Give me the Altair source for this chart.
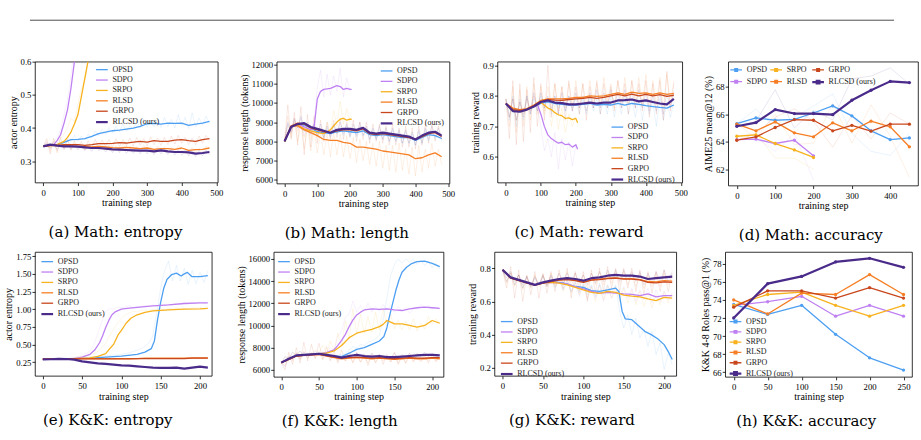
import altair as alt
import pandas as pd

METHODS = ["OPSD", "SDPO", "SRPO", "RLSD", "GRPO", "RLCSD (ours)"]
COLOR_LIST = ["#4d9ff2", "#bf80f2", "#f7b21e", "#f67f25", "#c9471d", "#4a2b8a"]
WIDTH_LIST = [1.3, 1.3, 1.3, 1.3, 1.3, 2.2]
OURS = "RLCSD (ours)"

# ---------------- (a) Math: entropy ----------------
A_OPSD = [0.345,0.348,0.350,0.357,0.365,0.366,0.368,0.375,0.383,0.388,0.392,0.394,0.397,0.400,0.405,0.413,0.414,0.412,0.415,0.414,0.415,0.408,0.412,0.415,0.420]
A_RLSD = [0.345,0.348,0.347,0.348,0.346,0.345,0.344,0.343,0.345,0.343,0.341,0.340,0.342,0.340,0.338,0.340,0.336,0.338,0.338,0.336,0.340,0.333,0.335,0.336,0.340]
A_GRPO = [0.345,0.348,0.348,0.350,0.350,0.350,0.348,0.350,0.353,0.353,0.354,0.356,0.355,0.358,0.360,0.358,0.362,0.360,0.360,0.364,0.365,0.362,0.360,0.365,0.368]
A_RLCSD = [0.345,0.350,0.347,0.345,0.345,0.344,0.342,0.340,0.340,0.338,0.336,0.335,0.334,0.333,0.332,0.332,0.330,0.333,0.330,0.328,0.328,0.327,0.323,0.325,0.328]
A_SDPO_X = [0,10,20,30,40,50,60,70,80,90,100]
A_SDPO = [0.345,0.347,0.348,0.350,0.362,0.380,0.415,0.455,0.520,0.600,0.680]
A_SRPO_X = [0,20,40,60,70,80,90,100,110,120,130,140]
A_SRPO = [0.345,0.347,0.350,0.360,0.372,0.388,0.412,0.440,0.495,0.550,0.605,0.660]
A_RAW_OPSD = [0.345,0.352,0.340,0.356,0.347,0.362,0.350,0.372,0.360,0.378,0.360,0.376,0.364,0.382,0.370,0.392,0.376,0.396,0.380,0.402,0.386,0.406,0.388,0.412,0.390,0.406,0.396,0.422,0.400,0.428,0.404,0.424,0.404,0.428,0.402,0.432,0.404,0.426,0.400,0.440,0.408,0.432,0.398,0.446,0.404,0.430,0.410,0.436,0.416]
A_RAW_RLSD = [0.345,0.360,0.330,0.362,0.325,0.358,0.340,0.366,0.332,0.356,0.338,0.352,0.334,0.350,0.338,0.354,0.336,0.352,0.334,0.350,0.332,0.348,0.330,0.352,0.334,0.346,0.332,0.344,0.328,0.350,0.330,0.344,0.326,0.346,0.330,0.344,0.328,0.342,0.326,0.348,0.330,0.340,0.322,0.342,0.326,0.340,0.328,0.346,0.334]
A_RAW_GRPO = [0.345,0.368,0.322,0.370,0.330,0.372,0.334,0.366,0.338,0.362,0.340,0.360,0.336,0.362,0.340,0.366,0.342,0.364,0.344,0.366,0.342,0.368,0.344,0.366,0.346,0.370,0.346,0.372,0.348,0.368,0.346,0.374,0.350,0.370,0.348,0.372,0.350,0.376,0.352,0.378,0.354,0.372,0.350,0.370,0.350,0.376,0.354,0.378,0.362]
A_RAW_RLCSD = [0.345,0.356,0.338,0.352,0.336,0.350,0.338,0.350,0.336,0.350,0.334,0.348,0.332,0.346,0.330,0.346,0.332,0.344,0.328,0.344,0.326,0.342,0.326,0.342,0.324,0.340,0.324,0.340,0.322,0.340,0.322,0.338,0.320,0.340,0.322,0.338,0.320,0.336,0.318,0.336,0.318,0.334,0.316,0.332,0.314,0.334,0.316,0.334,0.320]
A_RAW_SDPO = [0.345,0.352,0.342,0.358,0.372,0.395,0.440,0.485,0.560,0.640,0.720]
A_RAW_SRPO = [0.345,0.350,0.342,0.355,0.352,0.368,0.382,0.400,0.430,0.420,0.470,0.520,0.540,0.620,0.680]

# ---------------- (b) Math: length ----------------
B_OPSD = [8000,8750,8900,8850,8700,8500,8450,8400,8500,8550,8500,8450,8550,8350,8300,8350,8300,8250,8200,8200,8050,8200,8350,8300,8150]
B_RLSD = [8000,8800,8800,8600,8450,8300,8100,8050,8050,7950,7900,7700,7700,7650,7600,7500,7450,7400,7350,7300,7100,7150,7300,7400,7200]
B_GRPO = [8000,8800,8950,8900,8700,8600,8500,8450,8550,8600,8600,8550,8650,8400,8350,8400,8350,8300,8250,8200,8100,8250,8400,8450,8250]
B_RLCSD = [8000,8750,8900,8950,8750,8650,8550,8450,8600,8650,8650,8600,8700,8450,8400,8450,8400,8350,8300,8250,8100,8300,8450,8500,8300]
B_SDPO_X = [0,20,40,60,80,90,100,110,120,140,160,170,180,190,200,205]
B_SDPO = [8000,8750,8900,8750,8600,8700,10200,10600,10700,10750,10900,10850,10700,10750,10700,10700]
B_SRPO_X = [0,20,40,60,80,100,120,130,140,150,160,170,180,190,200,205]
B_SRPO = [8000,8750,8850,8650,8550,8450,8400,8500,8600,8800,9000,9150,9200,9100,9150,9150]
B_RAW_OPSD = [8000,8900,8500,9100,8700,9200,8500,8900,8400,8900,8300,8700,8200,8700,8300,8800,8400,8800,8300,8800,8200,8700,8200,8800,8300,8700,8100,8600,8100,8600,8100,8500,8000,8600,8000,8500,7900,8500,7900,8400,7800,8500,7900,8600,8000,8600,8100,8500,8000]
B_RAW_RLSD = [8000,9300,8200,9200,8000,8900,7600,8700,7500,8600,7400,8500,7300,8400,7200,8500,7300,8400,7200,8300,7100,8200,6900,8100,7000,8000,6800,7900,6700,8000,6600,7800,6500,7800,6400,7900,6500,7600,6300,7700,6200,7800,6400,7600,6600,7900,6700,7600,6800]
B_RAW_GRPO = [8000,9900,8100,9500,7800,9800,7300,9400,7700,9300,7900,9100,8000,9000,8100,9100,8200,9200,8100,9000,8200,9100,8000,9000,8100,9000,7900,8900,8000,8900,7900,8800,7800,8900,7800,8700,7700,8800,7700,8700,7600,8800,7800,8900,7900,8900,8000,8800,8100]
B_RAW_RLCSD = [8000,9000,8500,9200,8700,9300,8600,9000,8400,8900,8300,8900,8200,8800,8200,8900,8400,9000,8400,8900,8300,8900,8300,9000,8300,8800,8100,8700,8100,8800,8100,8700,8000,8700,8000,8600,7900,8600,7900,8500,7800,8600,7900,8700,8100,8800,8200,8700,8100]
B_RAW_SDPO = [8000,8900,8400,9100,8600,9000,8300,8900,8300,9000,10800,11700,10300,11500,10400,11400,10600,11800,10300,11300,10600]
B_RAW_SRPO = [8000,8800,8400,9000,8500,8900,8200,8800,8100,8700,8200,8700,8100,9000,8500,9600,8800,10100,8900,9700,9000]

# ---------------- (c) Math: reward ----------------
C_OPSD = [0.775,0.755,0.750,0.755,0.765,0.775,0.780,0.775,0.772,0.770,0.770,0.772,0.775,0.770,0.772,0.770,0.775,0.770,0.775,0.772,0.768,0.765,0.762,0.760,0.770]
C_RLSD = [0.775,0.760,0.755,0.758,0.770,0.785,0.790,0.790,0.790,0.792,0.795,0.795,0.800,0.798,0.800,0.805,0.810,0.805,0.812,0.808,0.810,0.805,0.810,0.805,0.808]
C_GRPO = [0.775,0.755,0.752,0.755,0.768,0.782,0.788,0.786,0.785,0.788,0.790,0.792,0.795,0.792,0.795,0.800,0.805,0.800,0.806,0.800,0.805,0.800,0.804,0.798,0.802]
C_RLCSD = [0.775,0.750,0.748,0.755,0.765,0.780,0.785,0.778,0.776,0.772,0.772,0.775,0.778,0.775,0.778,0.778,0.785,0.786,0.788,0.782,0.785,0.780,0.775,0.772,0.790]
C_SDPO_X = [0,20,40,60,80,90,100,110,120,130,140,150,160,170,180,190,200,205]
C_SDPO = [0.775,0.752,0.750,0.755,0.768,0.772,0.740,0.700,0.672,0.660,0.652,0.645,0.648,0.640,0.642,0.632,0.640,0.625]
C_SRPO_X = [0,20,40,60,80,100,110,120,130,140,150,160,170,180,190,200,205]
C_SRPO = [0.775,0.752,0.750,0.756,0.768,0.778,0.770,0.760,0.755,0.745,0.738,0.735,0.726,0.728,0.722,0.726,0.712]
C_RAW_OPSD = [0.790,0.720,0.800,0.700,0.790,0.720,0.800,0.740,0.790,0.750,0.800,0.760,0.790,0.740,0.800,0.760,0.790,0.750,0.800,0.760,0.790,0.740,0.790,0.740,0.800,0.750,0.790,0.740,0.790,0.740,0.800,0.730,0.790,0.740,0.800,0.740,0.790,0.730,0.790,0.720,0.790,0.740,0.780,0.700,0.790,0.720,0.780,0.730,0.780]
C_RAW_RLSD = [0.790,0.700,0.830,0.680,0.820,0.700,0.830,0.720,0.840,0.740,0.830,0.750,0.830,0.760,0.840,0.750,0.830,0.760,0.840,0.770,0.850,0.760,0.840,0.770,0.850,0.770,0.840,0.770,0.860,0.780,0.840,0.760,0.850,0.780,0.860,0.770,0.850,0.780,0.860,0.770,0.870,0.760,0.850,0.770,0.860,0.760,0.870,0.770,0.850]
C_RAW_GRPO = [0.790,0.660,0.850,0.640,0.840,0.650,0.820,0.680,0.860,0.700,0.840,0.720,0.900,0.730,0.840,0.740,0.830,0.720,0.850,0.750,0.830,0.740,0.840,0.720,0.830,0.760,0.850,0.740,0.840,0.760,0.830,0.750,0.850,0.760,0.840,0.740,0.850,0.760,0.840,0.750,0.850,0.730,0.840,0.740,0.850,0.720,0.880,0.750,0.840]
C_RAW_RLCSD = [0.790,0.730,0.790,0.720,0.780,0.730,0.800,0.740,0.810,0.750,0.810,0.760,0.800,0.750,0.800,0.740,0.810,0.750,0.800,0.750,0.810,0.760,0.800,0.750,0.810,0.760,0.820,0.760,0.810,0.760,0.820,0.770,0.810,0.760,0.820,0.770,0.810,0.760,0.820,0.760,0.810,0.750,0.800,0.750,0.810,0.740,0.810,0.760,0.810]
C_RAW_SDPO = [0.790,0.730,0.790,0.720,0.780,0.740,0.790,0.750,0.800,0.760,0.700,0.620,0.660,0.600,0.680,0.560,0.660,0.590,0.650,0.570,0.640]
C_RAW_SRPO = [0.790,0.730,0.790,0.720,0.780,0.740,0.790,0.750,0.800,0.770,0.790,0.740,0.780,0.700,0.770,0.690,0.760,0.680,0.740,0.700,0.730]

# ---------------- (d) Math: accuracy ----------------
D_STEPS = [0,50,100,150,200,250,300,350,400,450]
D_OPSD = [65.33,65.74,65.57,65.64,66.10,66.62,65.89,64.80,64.16,64.28]
D_SDPO = [64.16,64.19,63.87,64.11,62.97]
D_SRPO = [64.40,64.50,63.87,63.40,62.85]
D_RLSD = [65.28,64.80,65.45,64.65,64.36,65.38,64.80,65.50,65.09,63.63]
D_GRPO = [64.11,64.36,65.04,65.62,65.57,64.80,65.20,64.77,65.28,65.28]
D_RLCSD = [65.13,65.40,66.35,66.06,66.06,65.98,67.03,67.76,68.41,68.32]
D_RAW_OPSD = [65.3,66.4,65.0,65.8,66.6,67.5,64.6,63.3,63.0,64.6]
D_RAW_SDPO = [64.2,64.3,63.3,64.6,61.2]
D_RAW_SRPO = [64.4,64.6,62.8,62.8,62.0]
D_RAW_RLSD = [65.3,64.3,66.0,63.8,63.9,66.8,63.9,66.7,64.4,61.4]
D_RAW_GRPO = [64.1,64.6,65.8,66.4,65.5,63.6,65.9,64.2,66.1,65.3]
D_RAW_RLCSD = [65.1,65.5,67.8,65.0,66.3,65.6,68.6,68.8,69.4,68.2]

# ---------------- (e) K&K: entropy ----------------
E_OPSD_X = [0,20,40,60,80,100,120,130,138,142,146,150,154,158,164,170,176,180,184,190,200,210]
E_OPSD = [0.29,0.29,0.295,0.305,0.32,0.335,0.36,0.39,0.44,0.55,0.85,1.10,1.30,1.42,1.49,1.51,1.47,1.50,1.52,1.46,1.46,1.475]
E_SDPO_X = [0,20,40,50,60,66,72,76,80,84,88,92,100,110,120,140,160,180,200,210]
E_SDPO = [0.29,0.29,0.30,0.32,0.36,0.42,0.52,0.62,0.74,0.84,0.92,0.96,1.00,1.015,1.025,1.045,1.06,1.08,1.09,1.09]
E_SRPO_X = [0,20,40,60,70,80,86,90,96,100,106,112,120,130,140,160,180,200,210]
E_SRPO = [0.29,0.29,0.30,0.31,0.33,0.37,0.45,0.50,0.64,0.70,0.80,0.87,0.92,0.955,0.975,0.99,1.0,1.005,1.01]
E_RLSD = [0.29,0.295,0.295,0.30,0.30,0.30,0.30,0.30,0.30,0.30,0.30,0.30,0.30,0.305,0.305,0.305,0.305,0.305,0.305,0.31,0.31,0.31]
E_GRPO = [0.29,0.295,0.295,0.295,0.295,0.295,0.295,0.295,0.295,0.295,0.295,0.295,0.30,0.30,0.30,0.30,0.30,0.30,0.30,0.305,0.305,0.305]
E_RLCSD = [0.287,0.29,0.295,0.293,0.285,0.26,0.245,0.232,0.225,0.215,0.204,0.20,0.19,0.18,0.17,0.167,0.168,0.17,0.157,0.17,0.185,0.17]
E_RAW_OPSD = [0.29,0.29,0.29,0.29,0.295,0.30,0.30,0.30,0.31,0.31,0.315,0.32,0.325,0.33,0.33,0.335,0.34,0.345,0.35,0.35,0.36,0.37,0.38,0.40,0.42,0.44,0.47,0.52,0.62,0.95,1.30,1.55,1.68,1.40,1.62,1.40,1.58,1.35,1.55,1.36,1.52,1.38,1.54]
E_RAW_SDPO = [0.29,0.29,0.29,0.29,0.295,0.30,0.30,0.31,0.32,0.33,0.35,0.37,0.40,0.50,0.65,0.82,0.96,1.01,1.00,1.03,1.02,1.03,1.05,1.02,1.04,1.03,1.05,1.04,1.06,1.04,1.06,1.05,1.07,1.06,1.08,1.06,1.10,1.07,1.09,1.08,1.10,1.08,1.10]
E_RAW_SRPO = [0.29,0.29,0.29,0.29,0.295,0.30,0.30,0.30,0.31,0.32,0.33,0.34,0.35,0.37,0.40,0.45,0.52,0.62,0.72,0.80,0.87,0.92,0.95,0.97,0.96,0.98,0.99,0.97,1.00,0.99,1.00,0.98,1.01,1.00,1.02,0.99,1.01,1.00,1.02,1.01,1.02,1.00,1.02]

# ---------------- (f) K&K: length ----------------
F_RLCSD = [6650,7000,7300,7350,7400,7450,7350,7250,7100,7250,7350,7250,7200,7250,7150,7150,7200,7250,7300,7350,7350,7300]
F_GRPO = [6650,6950,7250,7300,7350,7400,7250,7150,7050,7100,7150,7100,7050,7100,7050,7000,7050,7100,7050,7050,7100,7100]
F_RLSD = [6650,6950,7250,7300,7350,7400,7250,7100,7000,7050,7100,7050,7000,7050,7000,6950,7000,7050,7000,7000,7050,7000]
F_SDPO_X = [0,20,40,50,60,70,75,80,85,90,95,100,105,110,120,130,140,150,160,170,180,190,200,210]
F_SDPO = [6650,7250,7400,7450,7550,7800,8200,8650,9200,9900,10500,10950,11200,11400,11500,11450,11500,11400,11350,11500,11600,11650,11600,11550]
F_SRPO_X = [0,20,40,50,60,70,80,90,100,110,120,130,135,140,145,150,160,170,180,190,200,210]
F_SRPO = [6650,7250,7400,7450,7500,7700,8200,8900,9300,9500,9650,9900,10100,10450,10300,10150,10150,10000,9850,10000,10450,10200]
F_OPSD_X = [0,20,40,50,60,70,80,90,100,110,120,130,136,140,144,148,152,156,160,166,172,180,190,200,210]
F_OPSD = [6650,7250,7400,7450,7350,7250,7200,7500,7850,8000,8300,8600,9000,9800,11000,12100,13200,14100,14800,15250,15550,15750,15800,15600,15300]
F_RAW_RLCSD = [6650,6300,7200,6900,7500,7000,7600,7100,7500,7300,7600,7200,7500,7100,7400,6900,7300,7100,7600,7000,7500,7100,7400,7000,7500,7100,7400,7000,7300,7100,7500,7000,7400,7100,7500,7100,7500,7200,7600,7200,7500,7200,7400]
F_RAW_GRPO = [6650,6000,7600,6500,8000,6600,8500,6800,8300,7000,8400,6900,8100,6800,7700,6600,7800,6800,7500,6600,7600,6700,7400,6400,7500,6600,7400,6500,7400,6700,7600,6500,7300,6600,7500,6700,7400,6800,7300,6600,7400,6800,7200]
F_RAW_RLSD = [6650,6400,7300,6800,7600,6900,7700,7000,7600,7100,7500,7000,7300,6900,7300,6800,7200,6800,7300,6700,7300,6700,7200,6600,7300,6700,7200,6800,7200,6700,7300,6600,7100,6600,7300,6800,7100,6700,7200,6800,7200,6700,7100]
F_RAW_SDPO = [6650,7200,7000,7600,7300,7700,7200,7500,7300,7700,7400,7600,7500,8000,7800,9000,9500,10800,11000,12200,11200,11800,11300,12000,11200,11700,11300,11900,11400,11800,11200,11700,11300,11600,11100,11500,11500,11900,11600,11800,11500,11700,11500]
F_RAW_SRPO = [6650,7200,7000,7600,7300,7700,7200,7500,7400,7800,7600,8200,7500,8600,7800,9300,8200,10400,8800,11500,9200,11000,9300,10800,9400,11200,9600,11500,10000,11000,9700,10500,9600,10400,9600,10600,9500,10200,9700,10800,10100,10600,10200]
F_RAW_OPSD = [6650,7200,7000,7600,7300,7700,7300,7500,7300,7600,7400,7500,7300,7400,7200,7300,7400,7500,7800,8100,7900,8300,8200,8500,8600,8800,9100,10500,12500,14500,15500,16000,15600,16000,15700,16000,15500,15900,15400,15800,15200,15600,15100]

# ---------------- (g) K&K: reward ----------------
G_RLCSD = [0.790,0.745,0.730,0.715,0.700,0.715,0.725,0.735,0.740,0.735,0.725,0.740,0.745,0.755,0.760,0.756,0.755,0.750,0.735,0.740,0.745,0.750]
G_GRPO = [0.790,0.740,0.725,0.712,0.698,0.710,0.720,0.728,0.732,0.725,0.715,0.728,0.732,0.738,0.740,0.735,0.735,0.730,0.715,0.712,0.718,0.715]
G_RLSD = [0.790,0.742,0.728,0.714,0.700,0.712,0.722,0.730,0.735,0.728,0.718,0.730,0.735,0.740,0.742,0.738,0.738,0.732,0.720,0.718,0.725,0.722]
G_SDPO = [0.790,0.742,0.728,0.712,0.700,0.712,0.715,0.712,0.705,0.690,0.675,0.660,0.650,0.655,0.650,0.645,0.642,0.635,0.645,0.628,0.635,0.635]
G_SRPO = [0.790,0.742,0.728,0.712,0.700,0.712,0.715,0.710,0.700,0.685,0.670,0.655,0.648,0.660,0.655,0.638,0.632,0.628,0.615,0.605,0.625,0.620]
G_OPSD_X = [0,10,20,30,40,50,60,70,80,90,100,110,120,130,140,144,148,152,160,168,176,184,192,200,206,210]
G_OPSD = [0.790,0.742,0.728,0.712,0.700,0.712,0.718,0.715,0.705,0.690,0.685,0.665,0.660,0.670,0.680,0.660,0.540,0.495,0.490,0.455,0.420,0.400,0.375,0.340,0.290,0.250]
G_RAW_RLCSD = [0.790,0.740,0.780,0.720,0.760,0.700,0.750,0.690,0.740,0.700,0.750,0.700,0.760,0.710,0.770,0.710,0.770,0.720,0.770,0.710,0.760,0.700,0.770,0.710,0.780,0.720,0.790,0.730,0.790,0.720,0.790,0.730,0.780,0.720,0.780,0.700,0.770,0.710,0.780,0.720,0.790,0.720,0.780]
G_RAW_GRPO = [0.790,0.680,0.810,0.620,0.790,0.600,0.760,0.640,0.780,0.620,0.770,0.650,0.780,0.660,0.790,0.680,0.800,0.620,0.780,0.660,0.780,0.600,0.790,0.650,0.800,0.660,0.810,0.680,0.800,0.660,0.800,0.680,0.800,0.660,0.790,0.640,0.780,0.650,0.780,0.660,0.790,0.660,0.770]
G_RAW_RLSD = [0.790,0.710,0.780,0.690,0.760,0.670,0.750,0.680,0.760,0.690,0.760,0.690,0.770,0.700,0.770,0.700,0.780,0.690,0.770,0.690,0.760,0.680,0.770,0.700,0.780,0.700,0.780,0.710,0.780,0.700,0.780,0.700,0.770,0.690,0.770,0.680,0.760,0.690,0.770,0.690,0.770,0.700,0.760]
G_RAW_SDPO = [0.790,0.720,0.770,0.700,0.760,0.680,0.750,0.690,0.750,0.700,0.760,0.690,0.750,0.690,0.740,0.670,0.730,0.660,0.720,0.630,0.700,0.610,0.690,0.620,0.700,0.600,0.690,0.620,0.680,0.630,0.690,0.620,0.680,0.600,0.670,0.610,0.680,0.590,0.670,0.600,0.660,0.610,0.650]
G_RAW_SRPO = [0.790,0.720,0.770,0.700,0.760,0.680,0.750,0.690,0.750,0.700,0.760,0.690,0.750,0.690,0.740,0.660,0.720,0.650,0.710,0.640,0.700,0.620,0.690,0.600,0.700,0.610,0.700,0.620,0.690,0.600,0.680,0.590,0.670,0.580,0.660,0.570,0.650,0.560,0.640,0.580,0.660,0.590,0.650]
G_RAW_OPSD = [0.790,0.720,0.770,0.700,0.760,0.680,0.750,0.690,0.750,0.700,0.760,0.690,0.750,0.680,0.740,0.670,0.730,0.660,0.720,0.650,0.710,0.640,0.700,0.630,0.710,0.640,0.700,0.650,0.700,0.540,0.440,0.520,0.400,0.500,0.380,0.430,0.330,0.420,0.280,0.350,0.190,0.290,0.220]

# ---------------- (h) K&K: accuracy ----------------
H_STEPS = [0,50,100,150,200,250]
H_OPSD = [73.5,72.4,73.4,70.2,67.6,66.25]
H_SDPO = [73.4,73.8,74.4,72.2,73.4,72.2]
H_SRPO = [73.4,74.6,74.85,73.4,72.2,73.4]
H_RLSD = [74.0,72.45,74.75,74.6,76.8,74.6]
H_GRPO = [73.2,75.0,75.0,74.2,75.35,74.2]
H_RLCSD = [72.0,75.8,76.6,78.2,78.6,77.6]

SERIF = "Liberation Serif, Times New Roman, serif"
CAPTION_FONT = "DejaVu Serif"
LEG_LINE = "M-1.3,0H1.3"
LEG_LINE_PT = "M-1.3,0H1.3M-0.3,-0.3H0.3V0.3H-0.3Z"


def grid(values, step):
    return [i * step for i in range(len(values))]


def long_df(series):
    rows = []
    for m, (xs, ys) in series.items():
        for x, y in zip(xs, ys):
            rows.append({"step": x, "value": y, "method": m})
    return pd.DataFrame(rows)


def panel(smooth, raw, xdom, xticks, ydom, yticks, yfmt, ytitle, caption, cap_off,
          w, h, leg, points=False):
    order = METHODS
    cmap = dict(zip(METHODS, COLOR_LIST))
    wmap = dict(zip(METHODS, WIDTH_LIST))
    cscale = alt.Scale(domain=order, range=[cmap[m] for m in order])
    wscale = alt.Scale(type="ordinal", domain=order, range=[wmap[m] for m in order])
    legend = alt.Legend(
        orient="none", legendX=leg["x"], legendY=leg["y"], title=None,
        symbolType=LEG_LINE_PT if points else LEG_LINE, symbolSize=81, symbolOpacity=1,
        labelFont=SERIF, labelFontSize=8, labelColor="#222", labelOffset=4.5,
        rowPadding=leg.get("rp", 0.4), columns=leg.get("cols", 1),
        columnPadding=leg.get("cp", 6), padding=0,
    )
    x = alt.X("step:Q", scale=alt.Scale(domain=xdom, nice=False, zero=False),
              axis=alt.Axis(values=xticks, format="d", title="training step"))
    y = alt.Y("value:Q", scale=alt.Scale(domain=ydom, nice=False, zero=False),
              axis=alt.Axis(values=yticks, format=yfmt, title=ytitle))
    layers = []
    if raw:
        rdf = long_df(raw)
        layers.append(
            alt.Chart(rdf).mark_line(clip=True, strokeWidth=0.7, opacity=0.17).encode(
                x=x, y=y, color=alt.Color("method:N", scale=cscale, legend=legend)))
    sdf = long_df(smooth)
    enc = dict(x=x, y=y,
               color=alt.Color("method:N", scale=cscale, legend=legend),
               strokeWidth=alt.StrokeWidth("method:N", scale=wscale, legend=legend))
    kw = dict(clip=True, strokeJoin="round")
    if points:
        kw["point"] = alt.OverlayMarkDef(filled=True, size=11)
    layers.append(alt.Chart(sdf[sdf.method != OURS]).mark_line(**kw).encode(**enc))
    layers.append(alt.Chart(sdf[sdf.method == OURS]).mark_line(**kw).encode(**enc))
    return alt.layer(*layers).properties(
        width=w, height=h,
        title=alt.TitleParams(text=caption, orient="bottom", anchor="middle", frame="bounds",
                              font=CAPTION_FONT, fontSize=15, fontWeight="normal",
                              color="#000", offset=cap_off))


MATH_X = [-24, 504]
MATH_T = [0, 100, 200, 300, 400, 500]
KK_X = [-10, 215]
KK_T = [0, 50, 100, 150, 200]
CAP1 = 17
CAP2 = 12

pa = panel(
    {"OPSD": (grid(A_OPSD, 20), A_OPSD), "SDPO": (A_SDPO_X, A_SDPO), "SRPO": (A_SRPO_X, A_SRPO),
     "RLSD": (grid(A_RLSD, 20), A_RLSD), "GRPO": (grid(A_GRPO, 20), A_GRPO),
     OURS: (grid(A_RLCSD, 20), A_RLCSD)},
    {"OPSD": (grid(A_RAW_OPSD, 10), A_RAW_OPSD), "SDPO": (grid(A_RAW_SDPO, 10), A_RAW_SDPO),
     "SRPO": (grid(A_RAW_SRPO, 10), A_RAW_SRPO), "RLSD": (grid(A_RAW_RLSD, 10), A_RAW_RLSD),
     "GRPO": (grid(A_RAW_GRPO, 10), A_RAW_GRPO), OURS: (grid(A_RAW_RLCSD, 10), A_RAW_RLCSD)},
    MATH_X, MATH_T, [0.236, 0.6], [0.3, 0.4, 0.5, 0.6], ".1f", "actor entropy",
    "(a) Math: entropy", CAP1, 183, 121, {"x": 61, "y": 2.5})

pb = panel(
    {"OPSD": (grid(B_OPSD, 20), B_OPSD), "SDPO": (B_SDPO_X, B_SDPO), "SRPO": (B_SRPO_X, B_SRPO),
     "RLSD": (grid(B_RLSD, 20), B_RLSD), "GRPO": (grid(B_GRPO, 20), B_GRPO),
     OURS: (grid(B_RLCSD, 20), B_RLCSD)},
    {"OPSD": (grid(B_RAW_OPSD, 10), B_RAW_OPSD), "SDPO": (grid(B_RAW_SDPO, 10), B_RAW_SDPO),
     "SRPO": (grid(B_RAW_SRPO, 10), B_RAW_SRPO), "RLSD": (grid(B_RAW_RLSD, 10), B_RAW_RLSD),
     "GRPO": (grid(B_RAW_GRPO, 10), B_RAW_GRPO), OURS: (grid(B_RAW_RLCSD, 10), B_RAW_RLCSD)},
    MATH_X, MATH_T, [5810, 12140], [6000, 7000, 8000, 9000, 10000, 11000, 12000], "d",
    "response length (tokens)", "(b) Math: length", CAP1, 173, 122, {"x": 104, "y": 3.8})

pc = panel(
    {"OPSD": (grid(C_OPSD, 20), C_OPSD), "SDPO": (C_SDPO_X, C_SDPO), "SRPO": (C_SRPO_X, C_SRPO),
     "RLSD": (grid(C_RLSD, 20), C_RLSD), "GRPO": (grid(C_GRPO, 20), C_GRPO),
     OURS: (grid(C_RLCSD, 20), C_RLCSD)},
    {"OPSD": (grid(C_RAW_OPSD, 10), C_RAW_OPSD), "SDPO": (grid(C_RAW_SDPO, 10), C_RAW_SDPO),
     "SRPO": (grid(C_RAW_SRPO, 10), C_RAW_SRPO), "RLSD": (grid(C_RAW_RLSD, 10), C_RAW_RLSD),
     "GRPO": (grid(C_RAW_GRPO, 10), C_RAW_GRPO), OURS: (grid(C_RAW_RLCSD, 10), C_RAW_RLCSD)},
    MATH_X, MATH_T, [0.516, 0.912], [0.6, 0.7, 0.8, 0.9], ".1f", "training reward",
    "(c) Math: reward", CAP1, 185, 121, {"x": 114, "y": 60})

pd_ = panel(
    {"OPSD": (D_STEPS, D_OPSD), "SDPO": (D_STEPS, D_SDPO), "SRPO": (D_STEPS, D_SRPO),
     "RLSD": (D_STEPS, D_RLSD), "GRPO": (D_STEPS, D_GRPO), OURS: (D_STEPS, D_RLCSD)},
    {"OPSD": (D_STEPS, D_RAW_OPSD), "SDPO": (D_STEPS, D_RAW_SDPO), "SRPO": (D_STEPS, D_RAW_SRPO),
     "RLSD": (D_STEPS, D_RAW_RLSD), "GRPO": (D_STEPS, D_RAW_GRPO), OURS: (D_STEPS, D_RAW_RLCSD)},
    [-22.5, 472.5], [0, 100, 200, 300, 400], [60.8, 69.85], [62, 64, 66, 68], "d",
    "AIME25 mean@12 (%)", "(d) Math: accuracy", CAP1, 190, 124,
    {"x": 2, "y": 2.5, "cols": 3, "cp": 0, "rp": 2}, points=True)

pe = panel(
    {"OPSD": (E_OPSD_X, E_OPSD), "SDPO": (E_SDPO_X, E_SDPO), "SRPO": (E_SRPO_X, E_SRPO),
     "RLSD": (grid(E_RLSD, 10), E_RLSD), "GRPO": (grid(E_GRPO, 10), E_GRPO),
     OURS: (grid(E_RLCSD, 10), E_RLCSD)},
    {"OPSD": (grid(E_RAW_OPSD, 5), E_RAW_OPSD), "SDPO": (grid(E_RAW_SDPO, 5), E_RAW_SDPO),
     "SRPO": (grid(E_RAW_SRPO, 5), E_RAW_SRPO)},
    KK_X, KK_T, [0.055, 1.81], [0.25, 0.5, 0.75, 1.0, 1.25, 1.5, 1.75], ".2f", "actor entropy",
    "(e) K&K: entropy", CAP2, 177, 124, {"x": 6.3, "y": 4.2})

pf = panel(
    {"OPSD": (F_OPSD_X, F_OPSD), "SDPO": (F_SDPO_X, F_SDPO), "SRPO": (F_SRPO_X, F_SRPO),
     "RLSD": (grid(F_RLSD, 10), F_RLSD), "GRPO": (grid(F_GRPO, 10), F_GRPO),
     OURS: (grid(F_RLCSD, 10), F_RLCSD)},
    {"OPSD": (grid(F_RAW_OPSD, 5), F_RAW_OPSD), "SDPO": (grid(F_RAW_SDPO, 5), F_RAW_SDPO),
     "SRPO": (grid(F_RAW_SRPO, 5), F_RAW_SRPO), "RLSD": (grid(F_RAW_RLSD, 5), F_RAW_RLSD),
     "GRPO": (grid(F_RAW_GRPO, 5), F_RAW_GRPO), OURS: (grid(F_RAW_RLCSD, 5), F_RAW_RLCSD)},
    KK_X, KK_T, [5370, 16630], [6000, 8000, 10000, 12000, 14000, 16000], "d",
    "response length (tokens)", "(f) K&K: length", CAP2, 170, 125, {"x": 4.3, "y": 4.2})

pg = panel(
    {"OPSD": (G_OPSD_X, G_OPSD), "SDPO": (grid(G_SDPO, 10), G_SDPO), "SRPO": (grid(G_SRPO, 10), G_SRPO),
     "RLSD": (grid(G_RLSD, 10), G_RLSD), "GRPO": (grid(G_GRPO, 10), G_GRPO),
     OURS: (grid(G_RLCSD, 10), G_RLCSD)},
    {"OPSD": (grid(G_RAW_OPSD, 5), G_RAW_OPSD), "SDPO": (grid(G_RAW_SDPO, 5), G_RAW_SDPO),
     "SRPO": (grid(G_RAW_SRPO, 5), G_RAW_SRPO), "RLSD": (grid(G_RAW_RLSD, 5), G_RAW_RLSD),
     "GRPO": (grid(G_RAW_GRPO, 5), G_RAW_GRPO), OURS: (grid(G_RAW_RLCSD, 5), G_RAW_RLCSD)},
    KK_X, KK_T, [0.152, 0.898], [0.2, 0.4, 0.6, 0.8], ".1f", "training reward",
    "(g) K&K: reward", CAP2, 182, 124, {"x": 6.3, "y": 64.2})

ph = panel(
    {"OPSD": (H_STEPS, H_OPSD), "SDPO": (H_STEPS, H_SDPO), "SRPO": (H_STEPS, H_SRPO),
     "RLSD": (H_STEPS, H_RLSD), "GRPO": (H_STEPS, H_GRPO), OURS: (H_STEPS, H_RLCSD)},
    None,
    [-12.5, 262.5], [0, 50, 100, 150, 200, 250], [65.5, 79.3], [66, 68, 70, 72, 74, 76, 78], "d",
    "K&K 4-8 Roles pass@1 (%)", "(h) K&K: accuracy", CAP2, 187, 125,
    {"x": 4.3, "y": 64.2, "rp": 0.3}, points=True)

rule = alt.Chart(pd.DataFrame({"k": [0]})).mark_rule(color="#222", strokeWidth=0.8).encode(
    x=alt.value(-5), x2=alt.value(860), y=alt.value(0)
).properties(width=850, height=28, view=alt.ViewBackground(stroke="transparent", fill="transparent"))

row1 = alt.hconcat(pa, pb, pc, pd_, spacing=14).resolve_scale(
    color="independent", strokeWidth="independent")
row2 = alt.hconcat(pe, pf, pg, ph, spacing=22).resolve_scale(
    color="independent", strokeWidth="independent")

chart = alt.vconcat(rule, row1, row2, spacing=7.5).resolve_scale(
    color="independent", strokeWidth="independent"
).properties(
    padding={"left": 3, "top": 19, "right": 2, "bottom": 2}
).configure_view(
    stroke="#000", strokeWidth=0.8
).configure_axis(
    labelFont=SERIF, labelFontSize=8.7, labelColor="#000", labelFlush=False,
    titleFont=SERIF, titleFontSize=10, titleFontWeight="normal", titleColor="#000",
    tickSize=3, tickWidth=0.8, tickColor="#000", domain=False, grid=False
).configure_axisX(titlePadding=1, labelPadding=2.5).configure_axisY(titlePadding=2, labelPadding=1)

chart.save("out.html", embed_options={"renderer": "svg", "actions": False})
